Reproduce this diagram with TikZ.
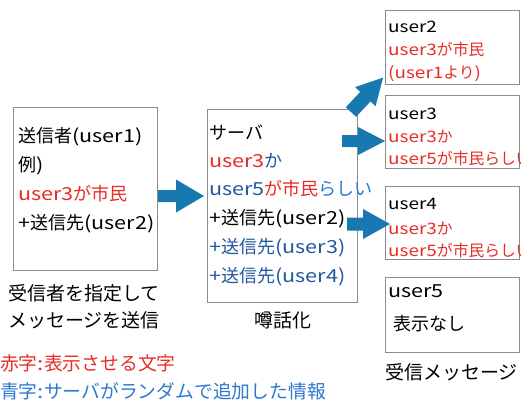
\documentclass[tikz,border=0pt]{standalone}
\usepackage{fontspec}
\setmainfont{Noto Sans CJK JP}
\newfontfamily\latfont[FakeStretch=1.2]{Noto Sans CJK JP}
\newcommand\lat[1]{{\latfont #1}}
\definecolor{tred}{RGB}{232,44,38}
\definecolor{tblue}{RGB}{35,88,160}
\definecolor{lblue}{RGB}{46,120,210}
\definecolor{arrowcol}{RGB}{24,121,176}
\definecolor{boxgray}{RGB}{140,140,140}
\newcommand\blockarrow[6]{%
  \begin{scope}[shift={#1},rotate=#2]
    \fill[arrowcol] (0,-#5) -- ({#3-#4},-#5) -- ({#3-#4},-#6) -- (#3,0) -- ({#3-#4},#6) -- ({#3-#4},#5) -- (0,#5) -- cycle;
  \end{scope}}
\begin{document}
\begin{tikzpicture}[x=1pt,y=-1pt,
  box/.style={draw=boxgray,line width=0.9pt,inner sep=0pt},
  big/.style={anchor=base west,inner sep=0pt,font=\fontsize{18}{20}\selectfont},
  small/.style={anchor=base west,inner sep=0pt,font=\fontsize{15.8}{18}\selectfont},
  lbl/.style={anchor=base west,inner sep=0pt,font=\fontsize{19}{22}\selectfont},
  legend/.style={anchor=base west,inner sep=0pt,font=\fontsize{18.8}{22}\selectfont}]
\useasboundingbox (0,0) rectangle (521,400);
\fill[white] (0,0) rectangle (521,400);

% boxes
\node[box,minimum width=144pt,minimum height=163pt] (b1) at (85,188.5) {};
\node[box,minimum width=150pt,minimum height=193pt] (srv) at (282,205.5) {};
\node[box,minimum width=134pt,minimum height=74pt] (u2) at (452,47) {};
\node[box,minimum width=134pt,minimum height=73pt] (u3) at (452,131.5) {};
\node[box,minimum width=134pt,minimum height=73pt] (u4) at (452,222.5) {};
\node[box,minimum width=134pt,minimum height=75pt] (u5) at (452,314.5) {};

% sender text
\node[big] (s1) at (18,142) {送信者\lat{(user1)}};
\node[big] (s2) at (18,171) {例\lat{)}};
\node[big,text=tred] (s3) at (18,200) {\lat{user3}が市民};
\node[big] (s4) at (18,229) {\lat{+}送信先\lat{(user2)}};

% server text
\node[big] (v1) at (209,139) {サーバ};
\node[big] (v2) at (209,167) {\textcolor{tred}{\lat{user3}}\textcolor{tblue}{か}};
\node[big] (v3) at (209,195) {\textcolor{tblue}{\lat{user5}}\textcolor{tred}{が市民}\textcolor{lblue}{らしい}};
\node[big] (v4) at (209,224) {\lat{+}送信先\lat{(user2)}};
\node[big,text=tblue] (v5) at (209,253) {\lat{+}送信先\lat{(user3)}};
\node[big,text=tblue] (v6) at (209,282) {\lat{+}送信先\lat{(user4)}};

% receiver texts
\node[small] (a1) at (388,32) {\lat{user2}};
\node[small,text=tred] (a2) at (388,55) {\lat{user3}が市民};
\node[small,text=tred] (a3) at (388,78) {\lat{(user1}より\lat{)}};
\node[small] (c1) at (388,119) {\lat{user3}};
\node[small,text=tred] (c2) at (388,142) {\lat{user3}か};
\node[small,text=tred] (c3) at (388,164) {\lat{user5}が市民らしい};
\node[small] (d1) at (388,209) {\lat{user4}};
\node[small,text=tred] (d2) at (388,234) {\lat{user3}か};
\node[small,text=tred] (d3) at (388,256) {\lat{user5}が市民らしい};
\node[big] (e1) at (388,297) {\lat{user5}};
\node[big] (e2) at (393,330) {表示なし};

% labels
\node[lbl] (l1) at (8,300) {受信者を指定して};
\node[lbl] (l2) at (8,327) {メッセージを送信};
\node[lbl,anchor=base] (l3) at (283,327) {噂話化};
\node[lbl] (l4) at (385,379) {受信メッセージ};
\node[legend,text=tred] (g1) at (0,370) {赤字\lat{:}表示させる文字};
\node[legend,text=lblue] (g2) at (0,398) {青字\lat{:}サーバがランダムで追加した情報};

% arrows (block arrows between the boxes)
\blockarrow{(158,196)}{0}{46}{28}{6}{16.5}
\blockarrow{(351,112)}{47}{47}{26}{7}{14}
\blockarrow{(342,141)}{0}{43}{27}{6}{14}
\blockarrow{(347,224)}{0}{43}{27}{6.5}{15}
\end{tikzpicture}
\end{document}
